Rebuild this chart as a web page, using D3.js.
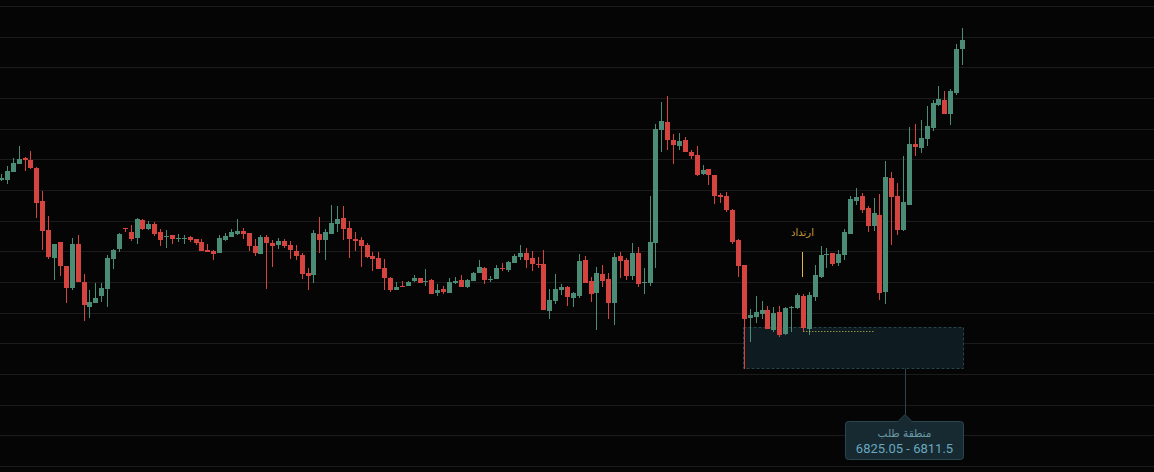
<!DOCTYPE html>
<html>
<head>
<meta charset="utf-8">
<title>Candles - demand zone</title>
<script src="https://d3js.org/d3.v7.min.js"></script>
<style>
  html, body { margin: 0; padding: 0; background: #050505; overflow: hidden; }
  svg { display: block; }
</style>
</head>
<body>
<div id="chart"></div>
<script>
// OHLC, one value per candle
var opens = [
  6873.3,6873.3,6875.9,6878.5,6880.5,6879.8,6877.2,6866.4,6857.0,6847.8,
  6853.0,6845.2,6838.0,6852.4,6840.0,6831.8,6833.1,6835.4,6837.7,6847.5,
  6850.8,6857.6,6856.3,6854.3,6860.2,6857.3,6858.9,6856.3,6854.7,6855.3,
  6854.0,6854.0,6854.7,6854.0,6853.0,6850.4,6850.1,6849.5,6853.7,6854.7,
  6855.7,6856.6,6856.0,6851.7,6849.1,6854.7,6852.7,6852.1,6853.4,6852.1,
  6850.1,6848.8,6842.9,6842.3,6855.7,6853.7,6855.7,6858.9,6860.9,6857.6,
  6854.0,6853.7,6852.1,6848.5,6847.8,6844.6,6841.3,6837.4,6838.7,6838.7,
  6840.3,6841.3,6840.0,6840.6,6836.4,6837.7,6836.4,6839.7,6840.6,6838.4,
  6840.3,6842.9,6844.6,6840.6,6841.0,6844.6,6843.9,6846.2,6848.2,6849.5,
  6847.8,6845.9,6845.9,6830.5,6833.8,6837.4,6838.4,6834.8,6835.4,6847.2,
  6840.3,6836.4,6842.6,6841.0,6833.1,6848.5,6847.2,6842.0,6849.5,6839.7,
  6839.7,6852.7,6889.6,6892.2,6886.3,6884.4,6886.3,6882.4,6881.4,6875.2,
  6876.9,6874.9,6868.4,6868.0,6863.5,6853.7,6845.5,6828.2,6828.6,6829.5,
  6830.9,6824.3,6830.2,6823.0,6831.5,6831.5,6835.4,6824.7,6835.1,6841.6,
  6848.8,6849.5,6846.2,6848.8,6855.7,6866.4,6868.0,6864.1,6858.3,6861.8,
  6836.7,6873.9,6868.0,6857.0,6865.1,6885.0,6883.7,6886.6,6890.2,6897.7,
  6899.4,6894.8,6901.7,6916.0
];
var highs = [
  6875.2,6877.8,6880.5,6884.4,6880.8,6882.7,6877.5,6869.7,6861.5,6852.5,
  6853.1,6845.3,6854.3,6855.3,6842.6,6837.4,6839.7,6839.7,6848.8,6850.8,
  6856.0,6857.7,6858.6,6860.9,6860.5,6859.9,6859.6,6857.3,6857.0,6855.4,
  6855.7,6855.3,6855.0,6854.1,6854.0,6852.4,6850.4,6855.3,6856.0,6857.3,
  6860.5,6857.6,6856.1,6854.0,6855.3,6855.3,6853.7,6854.3,6854.0,6853.4,
  6852.1,6849.5,6844.6,6857.0,6861.2,6857.3,6865.1,6864.8,6864.8,6859.9,
  6856.3,6854.7,6852.7,6849.8,6849.8,6847.5,6841.6,6840.0,6840.3,6840.3,
  6842.3,6841.4,6844.2,6841.0,6839.3,6838.7,6841.3,6841.6,6842.3,6841.0,
  6843.3,6847.2,6844.9,6842.0,6845.5,6846.2,6846.8,6849.1,6852.1,6851.1,
  6850.1,6848.2,6850.4,6837.7,6842.6,6839.3,6838.7,6836.7,6849.1,6848.5,
  6841.6,6844.9,6845.5,6842.9,6849.5,6849.8,6847.8,6852.7,6851.4,6844.6,
  6868.0,6891.5,6898.7,6900.7,6888.3,6888.6,6887.3,6883.1,6884.4,6878.2,
  6877.0,6875.0,6869.0,6869.4,6863.8,6854.0,6845.6,6831.2,6835.4,6833.8,
  6832.2,6831.8,6832.2,6831.8,6832.2,6836.4,6836.1,6836.7,6845.5,6851.7,
  6851.1,6849.6,6850.4,6857.3,6868.0,6870.7,6869.0,6864.8,6867.4,6868.7,
  6879.5,6875.9,6872.3,6881.1,6890.6,6891.5,6892.8,6897.4,6899.4,6903.9,
  6902.3,6903.0,6917.6,6922.9
];
var lows = [
  6872.9,6872.0,6875.8,6878.4,6876.2,6876.9,6860.9,6850.4,6847.5,6840.6,
  6842.0,6833.1,6837.4,6839.9,6827.3,6828.2,6833.0,6833.5,6831.8,6844.2,
  6849.8,6856.3,6853.4,6852.4,6857.0,6857.0,6855.0,6851.7,6851.1,6852.4,
  6853.0,6852.4,6853.0,6852.1,6850.0,6849.7,6847.2,6849.4,6853.4,6854.6,
  6855.3,6854.0,6850.1,6848.5,6849.0,6837.7,6844.9,6850.8,6851.1,6847.5,
  6847.2,6841.0,6837.4,6839.7,6849.5,6847.2,6855.6,6856.3,6853.7,6847.8,
  6850.1,6844.9,6847.8,6843.6,6844.1,6837.4,6836.7,6837.3,6838.3,6838.6,
  6840.0,6839.6,6838.7,6836.0,6835.4,6836.1,6836.3,6839.3,6838.3,6838.0,
  6840.2,6842.8,6839.3,6840.0,6840.9,6843.6,6843.3,6846.1,6847.2,6844.6,
  6843.6,6844.6,6830.8,6827.9,6832.8,6835.8,6832.2,6831.8,6834.8,6839.6,
  6833.5,6824.3,6838.4,6827.9,6826.0,6841.3,6840.6,6840.6,6838.4,6836.1,
  6838.7,6844.6,6882.4,6883.1,6878.5,6883.1,6882.3,6880.1,6874.6,6874.9,
  6871.6,6865.4,6865.8,6862.8,6852.4,6841.6,6811.5,6820.4,6826.6,6827.9,
  6824.6,6823.7,6822.0,6822.7,6823.7,6831.2,6824.0,6822.7,6833.8,6841.3,
  6844.6,6845.2,6845.2,6847.2,6855.6,6865.1,6862.5,6856.3,6856.6,6834.1,
  6832.8,6852.1,6855.3,6856.6,6865.0,6881.1,6882.1,6884.4,6889.3,6897.4,
  6894.7,6891.2,6901.0,6910.8
];
var closes = [
  6874.0,6876.2,6878.8,6880.1,6879.8,6877.2,6865.8,6856.6,6848.2,6852.4,
  6845.2,6838.0,6852.4,6840.0,6832.5,6833.5,6834.8,6838.0,6847.8,6850.4,
  6855.7,6857.3,6854.0,6860.5,6857.3,6858.9,6855.7,6853.7,6855.0,6854.0,
  6854.3,6854.3,6853.7,6852.7,6850.1,6849.8,6849.1,6854.3,6855.0,6856.3,
  6856.6,6855.7,6851.7,6849.5,6854.7,6852.7,6851.7,6853.4,6851.7,6850.4,
  6848.5,6842.6,6842.0,6856.0,6853.7,6856.3,6859.2,6860.5,6857.3,6854.0,
  6853.4,6851.7,6848.2,6847.5,6844.2,6841.3,6837.4,6838.4,6838.4,6840.0,
  6841.3,6839.7,6840.3,6836.1,6837.4,6836.7,6840.0,6840.3,6838.4,6840.6,
  6842.9,6844.9,6840.6,6841.0,6844.6,6844.2,6846.5,6848.5,6849.5,6847.2,
  6845.9,6845.5,6830.9,6834.1,6837.7,6838.4,6835.1,6836.4,6846.8,6839.7,
  6836.1,6842.9,6840.3,6833.1,6848.2,6846.8,6842.0,6849.5,6839.3,6840.0,
  6853.0,6889.9,6892.5,6886.3,6884.7,6886.0,6882.4,6881.1,6874.9,6876.5,
  6874.9,6868.0,6867.7,6863.5,6853.0,6845.2,6827.9,6829.2,6830.2,6830.9,
  6824.7,6829.9,6822.7,6831.5,6831.8,6835.8,6825.0,6835.8,6842.3,6848.8,
  6849.1,6845.9,6849.1,6856.3,6867.1,6867.7,6863.5,6858.3,6862.5,6836.4,
  6874.3,6867.7,6857.0,6866.1,6885.0,6884.0,6887.0,6890.9,6898.4,6899.7,
  6894.8,6902.3,6916.0,6918.9
];

var gridLevels = d3.range(6780, 6931, 10);
var zoneRange = [6811.5, 6825.05];       // demand zone low / high
var zoneStart = 126, zoneEnd = 163;      // candle indices
var testLevel = 6823.9;                  // dotted retest line
var testStart = 136, testEnd = 148;
var reboundIndex = 136;
var reboundRange = [6841.6, 6849.8];
var reboundLabel = "ارتداد";
var zoneTitle = "منطقة طلب";

var width = 1154, height = 472;
var upColor = "#4b8c76", downColor = "#d5443e";

var svg = d3.select("#chart")
  .append("svg")
  .attr("width", width)
  .attr("height", height)
  .style("background", "#050505");

var x = d3.scaleLinear()
  .domain([0, opens.length - 1])
  .range([1.5, 962.5]);

var y = d3.scaleLinear()
  .domain([6778, 6932])
  .range([height, 0]);

// horizontal grid
svg.append("g")
  .selectAll("line")
  .data(gridLevels)
  .join("line")
  .attr("x1", 0)
  .attr("x2", width)
  .attr("y1", d => Math.round(y(d)) + 0.5)
  .attr("y2", d => Math.round(y(d)) + 0.5)
  .attr("stroke", "#1b1b1b")
  .attr("stroke-width", 1);

// demand zone
var zx0 = Math.round(x(zoneStart)) - 0.5,
    zx1 = Math.round(x(zoneEnd)) + 0.5,
    zy0 = Math.round(y(zoneRange[1])) - 0.5,
    zy1 = Math.round(y(zoneRange[0])) - 0.5;

svg.append("rect")
  .attr("x", zx0)
  .attr("y", zy0)
  .attr("width", zx1 - zx0)
  .attr("height", zy1 - zy0)
  .attr("fill", "#0e1b21")
  .attr("stroke", "#28434c")
  .attr("stroke-dasharray", "3,2");

// candles
var idx = d3.range(opens.length);
var candles = svg.append("g");

candles.selectAll("line")
  .data(idx)
  .join("line")
  .attr("x1", i => Math.round(x(i) - 2.5) + 2.5)
  .attr("x2", i => Math.round(x(i) - 2.5) + 2.5)
  .attr("y1", i => Math.round(y(highs[i])))
  .attr("y2", i => Math.round(y(lows[i])))
  .attr("stroke", i => closes[i] >= opens[i] ? upColor : downColor)
  .attr("stroke-width", 1);

candles.selectAll("rect")
  .data(idx)
  .join("rect")
  .attr("x", i => Math.round(x(i) - 2.5))
  .attr("width", 5)
  .attr("y", i => Math.round(y(Math.max(opens[i], closes[i]))))
  .attr("height", i => Math.max(1,
      Math.round(y(Math.min(opens[i], closes[i]))) - Math.round(y(Math.max(opens[i], closes[i])))))
  .attr("fill", i => closes[i] >= opens[i] ? upColor : downColor);

// dotted retest line
svg.append("line")
  .attr("x1", x(testStart))
  .attr("x2", x(testEnd))
  .attr("y1", Math.round(y(testLevel)) + 0.5)
  .attr("y2", Math.round(y(testLevel)) + 0.5)
  .attr("stroke", "#d6c84c")
  .attr("stroke-width", 1)
  .attr("stroke-dasharray", "1,2");

// rebound marker
var rx = Math.round(x(reboundIndex)) - 0.5;
svg.append("line")
  .attr("x1", rx).attr("x2", rx)
  .attr("y1", y(reboundRange[1]))
  .attr("y2", y(reboundRange[0]))
  .attr("stroke", "#e2b44c")
  .attr("stroke-width", 1);

svg.append("text")
  .attr("x", rx)
  .attr("y", y(reboundRange[1]) - 16)
  .attr("text-anchor", "middle")
  .attr("font-family", "'DejaVu Sans', sans-serif")
  .attr("font-size", 10)
  .attr("fill", "#c59e36")
  .text(reboundLabel);

// tooltip under the zone
var tipW = 118, tipH = 38,
    tipX = zx1 - tipW,
    tipY = zy1 + 53,
    tipCx = tipX + tipW / 2;

svg.append("line")
  .attr("x1", Math.round(tipCx) + 0.5)
  .attr("x2", Math.round(tipCx) + 0.5)
  .attr("y1", zy1)
  .attr("y2", tipY - 7)
  .attr("stroke", "#2b444d");

svg.append("rect")
  .attr("x", tipX)
  .attr("y", tipY)
  .attr("width", tipW)
  .attr("height", tipH)
  .attr("rx", 3)
  .attr("fill", "#172a31")
  .attr("stroke", "#2a4650");

svg.append("path")
  .attr("d", "M" + (tipCx - 7) + "," + (tipY + 0.5) + "L" + (tipCx + 0.5) + "," + (tipY - 7) + "L" + (tipCx + 8) + "," + (tipY + 0.5))
  .attr("fill", "#172a31")
  .attr("stroke", "#2a4650");

svg.append("rect")
  .attr("x", tipCx - 6)
  .attr("y", tipY)
  .attr("width", 13)
  .attr("height", 1.5)
  .attr("fill", "#172a31");

svg.append("text")
  .attr("x", tipCx)
  .attr("y", tipY + 15)
  .attr("text-anchor", "middle")
  .attr("font-family", "'DejaVu Sans', sans-serif")
  .attr("font-size", 10.5)
  .attr("fill", "#6b98a6")
  .text(zoneTitle);

svg.append("text")
  .attr("x", tipCx)
  .attr("y", tipY + 31.5)
  .attr("text-anchor", "middle")
  .attr("font-family", "Roboto, 'Liberation Sans', sans-serif")
  .attr("font-size", 13)
  .attr("fill", "#68a7bf")
  .text(zoneRange[1].toFixed(2) + " - " + zoneRange[0]);
</script>
</body>
</html>
